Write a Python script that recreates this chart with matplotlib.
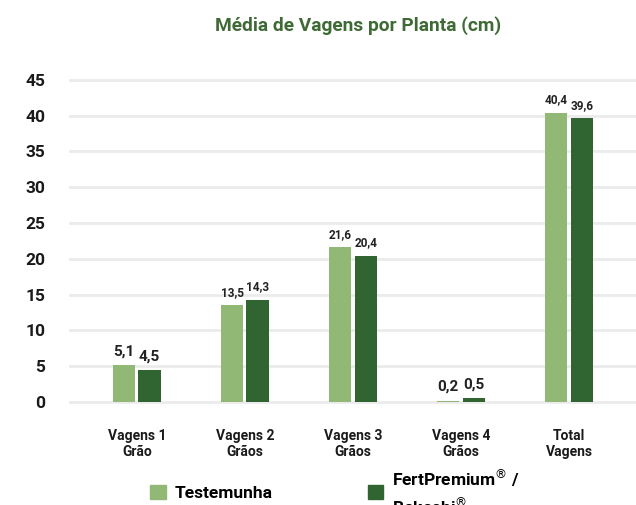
import matplotlib.pyplot as plt
from matplotlib.patches import Patch
import numpy as np

plt.rcParams['font.family'] = ['Roboto', 'DejaVu Sans']

categorias = ["Vagens 1\nGrão", "Vagens 2\nGrãos", "Vagens 3\nGrãos", "Vagens 4\nGrãos", "Total\nVagens"]
testemunha = [5.1, 13.5, 21.6, 0.2, 40.4]
fertpremium = [4.5, 14.3, 20.4, 0.5, 39.6]
rotulos_test = ["5,1", "13,5", "21,6", "0,2", "40,4"]
rotulos_fert = ["4,5", "14,3", "20,4", "0,5", "39,6"]
tam_rotulo = [11, 8.5, 8.5, 11, 8.5]

cor_clara = "#91b975"
cor_escura = "#306431"
cor_titulo = "#3f6a35"

fig = plt.figure(figsize=(6.36, 5.05), dpi=100)
ax = fig.add_axes([0.108, 0.197, 0.892, 0.652])

x = np.arange(len(categorias))
larg = 0.205
desl = 0.118

b1 = ax.bar(x - desl, testemunha, larg, color=cor_clara, zorder=3)
b2 = ax.bar(x + desl, fertpremium, larg, color=cor_escura, zorder=3)

for i in range(len(categorias)):
    ax.text(x[i] - desl, testemunha[i] + 0.9, rotulos_test[i], ha="center", va="bottom",
            fontsize=tam_rotulo[i], fontweight="bold", color="#222222")
    ax.text(x[i] + desl, fertpremium[i] + 0.9, rotulos_fert[i], ha="center", va="bottom",
            fontsize=tam_rotulo[i], fontweight="bold", color="#222222")

ax.set_xlim(-0.63, 4.62)
ax.set_ylim(-0.5, 45.5)
ax.set_yticks(range(0, 46, 5))
ax.set_xticks(x)
ax.set_xticklabels(categorias, fontsize=10, fontweight="bold", linespacing=1.2)
for lbl in ax.get_yticklabels():
    lbl.set_fontweight("bold")
    lbl.set_fontsize(12.5)
ax.tick_params(axis="y", length=0, pad=17, colors="#1a1a1a")
ax.tick_params(axis="x", length=0, pad=17, colors="#1a1a1a")
ax.grid(axis="y", color="#ebebeb", linewidth=2, zorder=0)
for s in ax.spines.values():
    s.set_visible(False)

fig.text(0.563, 0.95, "Média de Vagens por Planta (cm)", ha="center", va="center",
         fontsize=13.8, fontweight="bold", color=cor_titulo)

# legenda embaixo; a segunda linha do rótulo fica cortada na borda
alcas = [Patch(color=cor_clara), Patch(color=cor_escura)]
leg = fig.legend(alcas, ["Testemunha", "FertPremium$^{\\circledR}$ /\nBokashi$^{\\circledR}$"],
                 loc="center left", bbox_to_anchor=(0.225, 0.026), ncol=2, frameon=False,
                 prop={"weight": "bold", "size": 12.5}, handlelength=0.9, handleheight=0.9,
                 handletextpad=0.5, columnspacing=5.5, borderaxespad=0)
leg.get_texts()[1].set_linespacing(1.4)

fig.savefig("out.png", dpi=100)
